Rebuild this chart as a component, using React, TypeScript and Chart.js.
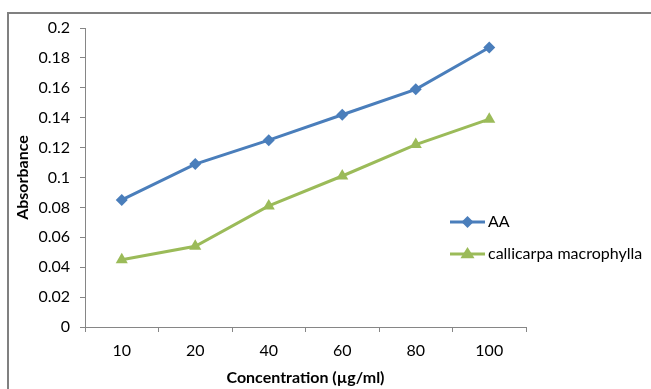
import React, { useEffect, useRef } from "react";
import { Chart, registerables } from "chart.js";

Chart.register(...registerables);

const categories = ["10", "20", "40", "60", "80", "100"];
const aaValues = [0.085, 0.109, 0.125, 0.142, 0.159, 0.187];
const cmValues = [0.045, 0.054, 0.081, 0.101, 0.122, 0.139];
const seriesNames = ["AA", "callicarpa macrophylla"];
const yTitle = "Absorbance";
const xTitle = "Concentration (µg/ml)";

const FONT = "Lato, 'Open Sans', sans-serif";
const AXIS = "#868686";

const legendPlugin = {
  id: "sideLegend",
  afterDraw(chart: any) {
    const ctx = chart.ctx;
    const x0 = 450;
    const len = 35;
    const ys = [222, 254];
    chart.data.datasets.forEach((ds: any, i: number) => {
      const y = ys[i];
      ctx.save();
      ctx.strokeStyle = ds.borderColor;
      ctx.lineWidth = ds.borderWidth;
      ctx.beginPath();
      ctx.moveTo(x0, y);
      ctx.lineTo(x0 + len, y);
      ctx.stroke();
      const cx = x0 + len / 2;
      const r = ds.pointRadius;
      ctx.fillStyle = ds.pointBackgroundColor;
      ctx.beginPath();
      if (ds.pointStyle === "rectRot") {
        ctx.moveTo(cx, y - r);
        ctx.lineTo(cx + r, y);
        ctx.lineTo(cx, y + r);
        ctx.lineTo(cx - r, y);
      } else {
        ctx.moveTo(cx, y - r);
        ctx.lineTo(cx + r * 1.0, y + r * 0.6);
        ctx.lineTo(cx - r * 1.0, y + r * 0.6);
      }
      ctx.closePath();
      ctx.fill();
      ctx.fillStyle = "#000";
      ctx.font = `16px ${FONT}`;
      ctx.textBaseline = "middle";
      ctx.textAlign = "left";
      ctx.fillText(ds.label, x0 + len + 3, y);
      ctx.restore();
    });
  },
};

export default function App() {
  const ref = useRef<HTMLCanvasElement | null>(null);
  useEffect(() => {
    document.body.style.margin = "0";
    const chart = new Chart(ref.current as HTMLCanvasElement, {
      type: "line",
      data: {
        labels: categories,
        datasets: [
          {
            label: seriesNames[0],
            data: aaValues,
            borderColor: "#4A7EBB",
            backgroundColor: "#4A7EBB",
            pointBackgroundColor: "#4A7EBB",
            pointBorderColor: "#4A7EBB",
            borderWidth: 3,
            pointStyle: "rectRot",
            pointRadius: 6,
            pointBorderWidth: 0,
            tension: 0,
          },
          {
            label: seriesNames[1],
            data: cmValues,
            borderColor: "#9BBB59",
            backgroundColor: "#9BBB59",
            pointBackgroundColor: "#9BBB59",
            pointBorderColor: "#9BBB59",
            borderWidth: 3,
            pointStyle: "triangle",
            pointRadius: 7,
            pointBorderWidth: 0,
            tension: 0,
          },
        ],
      },
      options: {
        responsive: false,
        animation: false,
        layout: { padding: { top: 28, right: 125, left: 0, bottom: 0 } },
        plugins: { legend: { display: false }, tooltip: { enabled: false } },
        scales: {
          x: {
            offset: true,
            grid: {
              offset: true,
              drawOnChartArea: false,
              drawTicks: true,
              tickLength: 5,
              color: AXIS,
            },
            border: { display: true, color: AXIS, width: 1 },
            ticks: { color: "#000", font: { family: FONT, size: 16 }, padding: 9, maxRotation: 0 },
            title: {
              display: true,
              text: xTitle,
              color: "#000",
              font: { family: FONT, size: 16, weight: "bold" },
              padding: { top: 0, bottom: 2 },
            },
            afterFit(scale: any) {
              scale.height = 62;
            },
          },
          y: {
            min: 0,
            max: 0.2,
            grid: {
              drawOnChartArea: false,
              drawTicks: true,
              tickLength: 5,
              color: AXIS,
            },
            border: { display: true, color: AXIS, width: 1 },
            ticks: {
              stepSize: 0.02,
              color: "#000",
              font: { family: FONT, size: 16 },
              padding: 10,
              callback: (v: any) => String(Number(Number(v).toFixed(2))),
            },
            title: {
              display: true,
              text: yTitle,
              color: "#000",
              font: { family: FONT, size: 16, weight: "bold" },
              padding: { top: 13, bottom: 0 },
            },
            afterFit(scale: any) {
              scale.width = 85;
            },
          },
        },
      },
      plugins: [legendPlugin],
    } as any);
    return () => chart.destroy();
  }, []);
  return (
    <div style={{ position: "relative", width: 651, height: 389, background: "#fff" }}>
      <div
        style={{
          position: "absolute",
          left: 7,
          top: 12,
          right: 0,
          bottom: 0,
          borderTop: "2px solid #808080",
          borderLeft: "2px solid #808080",
          boxSizing: "border-box",
        }}
      />
      <canvas ref={ref} width={651} height={389} style={{ position: "absolute", left: 0, top: 0 }} />
    </div>
  );
}
